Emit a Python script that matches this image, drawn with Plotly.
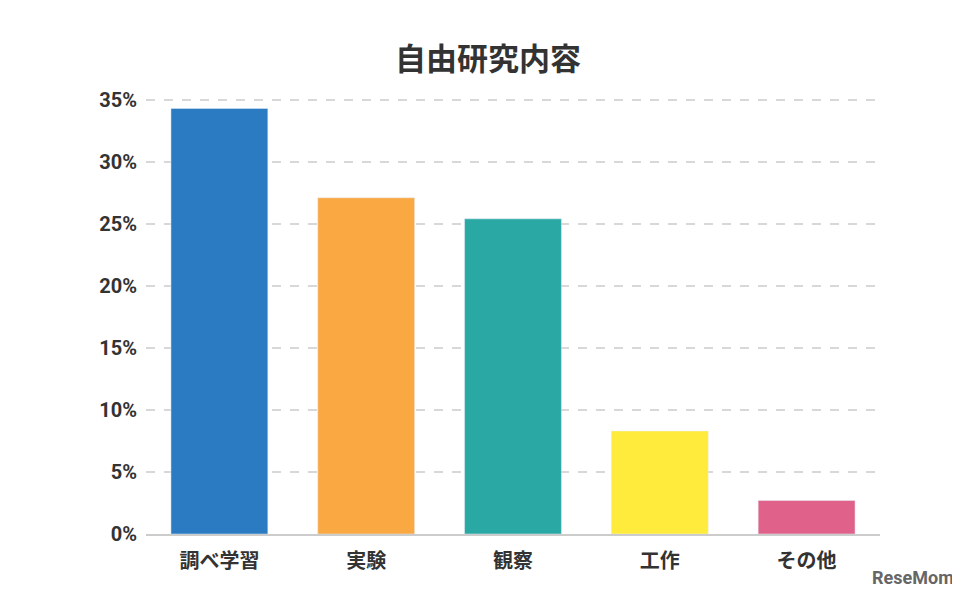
import plotly.graph_objects as go

categories = ["調べ学習", "実験", "観察", "工作", "その他"]
values = [34.3, 27.1, 25.4, 8.3, 2.7]
colors = ["#2a7bc1", "#f9a842", "#2aa8a4", "#ffeb3b", "#e0628a"]
tick_vals = [0, 5, 10, 15, 20, 25, 30, 35]
tick_text = [f"<b>{v}%</b>" for v in tick_vals]

fig = go.Figure(go.Bar(x=[f"<b>{c}</b>" for c in categories], y=values,
                       marker_color=colors, width=0.66))
fig.update_layout(
    width=960, height=600,
    paper_bgcolor="white", plot_bgcolor="white",
    margin=dict(l=138, r=88, t=88, b=74, autoexpand=False),
    title=dict(text="<b>自由研究内容</b>", x=0.5, xanchor="center", y=0.915, yanchor="middle",
               font=dict(family="Noto Sans CJK JP", size=31, color="#333")),
    font=dict(family="Noto Sans CJK JP", size=18, color="#333"),
    showlegend=False,
    xaxis=dict(showline=True, linecolor="#ccc", linewidth=2, ticks="",
               ticklabelstandoff=8, tickfont=dict(size=20, color="#333")),
    yaxis=dict(range=[0, 35.3], tickvals=tick_vals, ticktext=tick_text,
               showgrid=True, gridcolor="#d8d8d8", griddash="dash", gridwidth=2,
               zeroline=False, ticks="", ticklen=0, ticklabelstandoff=8,
               tickfont=dict(family="Roboto", size=20, color="#333")),
    annotations=[dict(text="<b>ReseMom</b>", x=1.0, y=-0.07, xref="paper", yref="paper",
                      xanchor="right", yanchor="top", showarrow=False, xshift=76,
                      font=dict(family="Roboto", size=18, color="#666"))],
)
fig.write_html("out.html")
